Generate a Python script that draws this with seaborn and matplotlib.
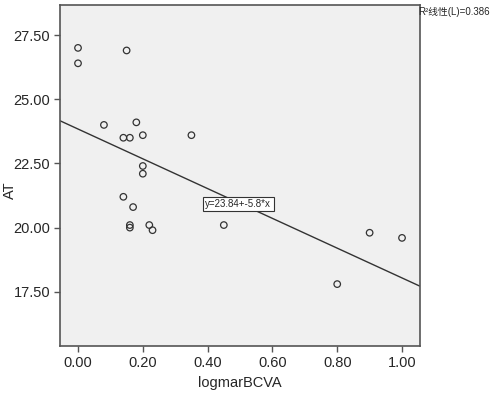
import pandas as pd
import matplotlib
matplotlib.use("Agg")
import matplotlib.pyplot as plt
import seaborn as sns

# data
logmar_bcva = [0.00, 0.00, 0.15, 0.08, 0.18, 0.14, 0.16, 0.20, 0.35, 0.20, 0.20,
               0.14, 0.17, 0.16, 0.16, 0.22, 0.23, 0.45, 0.90, 1.00, 0.80]
at_values = [27.0, 26.4, 26.9, 24.0, 24.1, 23.5, 23.5, 23.6, 23.6, 22.4, 22.1,
             21.2, 20.8, 20.1, 20.0, 20.1, 19.9, 20.1, 19.8, 19.6, 17.8]
intercept = 23.84
slope = -5.8
r_squared = 0.386
x_ticks = [0.0, 0.2, 0.4, 0.6, 0.8, 1.0]
y_ticks = [17.5, 20.0, 22.5, 25.0, 27.5]

df = pd.DataFrame({"logmarBCVA": logmar_bcva, "AT": at_values})

sns.set_style("ticks")
plt.rcParams["font.family"] = ["Liberation Sans", "Noto Sans CJK SC", "DejaVu Sans"]

fig = plt.figure(figsize=(4.93, 3.98), dpi=100)
ax = fig.add_axes([0.1217, 0.1307, 0.7303, 0.8567])
ax.set_facecolor("#F0F0F0")

# fit line from the equation shown in the chart
ax.axline((0, intercept), slope=slope, color="#333333", lw=1.0, zorder=2)

sns.scatterplot(data=df, x="logmarBCVA", y="AT", ax=ax, marker="o", s=22,
                facecolor="none", edgecolor="#333333", linewidth=0.9, zorder=3)

ax.set_xlim(-0.0556, 1.0556)
ax.set_ylim(15.39, 28.67)
ax.set_xticks(x_ticks)
ax.set_yticks(y_ticks)
ax.set_xticklabels([f"{t:.2f}" for t in x_ticks], fontsize=10.5)
ax.set_yticklabels([f"{t:.2f}" for t in y_ticks], fontsize=10.5)
ax.tick_params(direction="out", length=4, width=1, color="#555555", pad=3)
for sp in ax.spines.values():
    sp.set_visible(True)
    sp.set_color("#555555")
    sp.set_linewidth(1.2)

ax.set_xlabel("logmarBCVA", fontsize=10.5, va="center")
ax.set_ylabel("AT", fontsize=10.5, va="center")
ax.xaxis.set_label_coords(0.5, -0.108)
ax.yaxis.set_label_coords(-0.139, 0.458)

ax.text(0.495, 20.92, f"y={intercept}+{slope}*x", fontsize=7, ha="center", va="center",
        bbox=dict(boxstyle="square,pad=0.25", facecolor="white", edgecolor="#333333", lw=0.8),
        zorder=4)
fig.text(418 / 493, 1 - 12 / 398, f"R²线性(L)={r_squared}", fontsize=7, ha="left", va="center")

fig.savefig("out.png", dpi=100)
